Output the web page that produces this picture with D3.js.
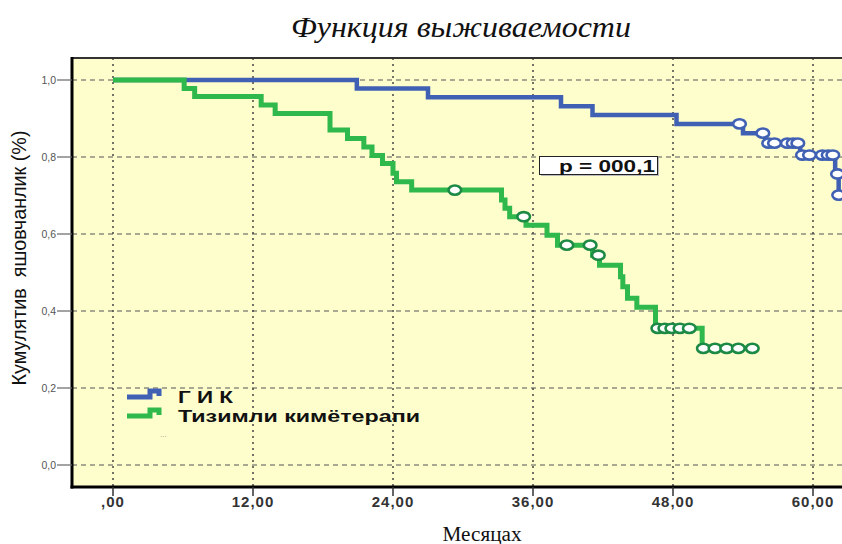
<!DOCTYPE html>
<html><head><meta charset="utf-8">
<script src="https://cdn.jsdelivr.net/npm/d3@7/dist/d3.min.js"></script>
<style>body{margin:0;background:#fff;} svg{display:block;}</style>
</head><body>
<svg id="chart" width="842" height="544"></svg>
<script>
// ---- data ----
const gikTimes = [0, 20.9, 27.0, 38.4, 41.1, 48.3, 54.0, 55.9, 58.9, 61.9, 62.2];
const gikSurv  = [1.0, 0.978, 0.955, 0.932, 0.909, 0.886, 0.862, 0.836, 0.805, 0.756, 0.701];
const gikCensorTimes = [53.7, 55.7, 56.2, 56.7, 57.8, 58.3, 58.7, 59.1, 59.7, 60.8, 61.3, 61.7, 62.1, 62.2];
const gikCensorSurv  = [0.886, 0.862, 0.836, 0.836, 0.836, 0.836, 0.836, 0.805, 0.805, 0.805, 0.805, 0.805, 0.756, 0.701];

const chemoTimes = [0, 6.1, 7.0, 12.7, 13.9, 18.6, 20.1, 21.5, 22.2, 23.1, 24.0, 24.3, 25.6,
                    33.3, 33.6, 34.0, 35.4, 37.2, 38.1, 41.1, 41.7, 43.5, 43.7, 44.1, 44.9, 46.5, 50.5];
const chemoSurv  = [1.0, 0.978, 0.957, 0.935, 0.913, 0.870, 0.848, 0.826, 0.804, 0.783, 0.758, 0.736, 0.714,
                    0.688, 0.667, 0.645, 0.623, 0.597, 0.571, 0.545, 0.519, 0.489, 0.463, 0.433, 0.410, 0.355, 0.303];
const chemoCensorTimes = [29.3, 35.2, 38.9, 40.9, 41.6, 46.7, 47.3, 47.9, 48.6, 49.4, 50.6, 51.6, 52.6, 53.6, 54.8];
const chemoCensorSurv  = [0.714, 0.645, 0.571, 0.571, 0.545, 0.355, 0.355, 0.355, 0.355, 0.355, 0.303, 0.303, 0.303, 0.303, 0.303];

const seriesNames = ["Г И К", "Тизимли кимётерапи"];
const xTicks = [0, 12, 24, 36, 48, 60];
const xTickLabels = [",00", "12,00", "24,00", "36,00", "48,00", "60,00"];
const yTicks = [0, 0.2, 0.4, 0.6, 0.8, 1.0];
const yTickLabels = ["0,0", "0,2", "0,4", "0,6", "0,8", "1,0"];
const titleText = "Функция выживаемости";
const xTitle = "Месяцах";
const yTitle = "Кумулятив\u00A0\u00A0яшовчанлик (%)";
const pText = "p = 000,1";

// ---- layout ----
const svg = d3.select("#chart");
const frame = {left: 72, top: 58, right: 870, bottom: 487};
const x = d3.scaleLinear().domain([0, 60]).range([113, 813]);
const y = d3.scaleLinear().domain([0, 1]).range([465, 80]);
const blue = "#4060b4", green = "#2fb84b", greenDark = "#1c8a45";

svg.append("defs").append("clipPath").attr("id", "clip")
  .append("rect").attr("x", frame.left).attr("y", frame.top)
  .attr("width", frame.right - frame.left).attr("height", frame.bottom - frame.top);

// background
svg.append("rect").attr("x", frame.left).attr("y", frame.top)
  .attr("width", frame.right - frame.left).attr("height", frame.bottom - frame.top)
  .attr("fill", "#fefdcc");

// grid
const grid = svg.append("g").attr("clip-path", "url(#clip)");
grid.selectAll(".hg").data(yTicks).join("line")
  .attr("x1", frame.left).attr("x2", frame.right)
  .attr("y1", d => y(d)).attr("y2", d => y(d))
  .attr("stroke", "#555").attr("stroke-width", 1.2).attr("stroke-dasharray", "5,4");
grid.selectAll(".vg").data(xTicks).join("line")
  .attr("x1", d => x(d)).attr("x2", d => x(d))
  .attr("y1", frame.top).attr("y2", frame.bottom)
  .attr("stroke", "#444").attr("stroke-width", 1.5).attr("stroke-dasharray", "2,4");

// curves
function stepPoints(times, surv, cTimes) {
  const pts = times.map((t, i) => [t, surv[i]]);
  const last = Math.max(times[times.length - 1], d3.max(cTimes));
  pts.push([last, surv[surv.length - 1]]);
  return pts;
}
const line = d3.line().x(d => x(d[0])).y(d => y(d[1])).curve(d3.curveStepAfter);
const plot = svg.append("g").attr("clip-path", "url(#clip)");

plot.append("path").datum(stepPoints(gikTimes, gikSurv, gikCensorTimes))
  .attr("d", line).attr("fill", "none").attr("stroke", blue).attr("stroke-width", 4.5)
  .attr("stroke-linejoin", "miter");
plot.append("path").datum(stepPoints(chemoTimes, chemoSurv, chemoCensorTimes))
  .attr("d", line).attr("fill", "none").attr("stroke", green).attr("stroke-width", 5)
  .attr("stroke-linejoin", "miter");

plot.selectAll(".cb").data(gikCensorTimes).join("ellipse")
  .attr("cx", d => x(d)).attr("cy", (d, i) => y(gikCensorSurv[i]))
  .attr("rx", 6.3).attr("ry", 4.6)
  .attr("fill", "#fff").attr("stroke", blue).attr("stroke-width", 2.6);
plot.selectAll(".cg").data(chemoCensorTimes).join("ellipse")
  .attr("cx", d => x(d)).attr("cy", (d, i) => y(chemoCensorSurv[i]))
  .attr("rx", 6.3).attr("ry", 4.6)
  .attr("fill", "#fff").attr("stroke", greenDark).attr("stroke-width", 2.6);

// frame
svg.append("line").attr("x1", frame.left).attr("x2", 842).attr("y1", frame.top).attr("y2", frame.top)
  .attr("stroke", "#333").attr("stroke-width", 2);
svg.append("line").attr("x1", frame.left).attr("x2", frame.left).attr("y1", frame.top - 1).attr("y2", frame.bottom + 1.5)
  .attr("stroke", "#000").attr("stroke-width", 3);
svg.append("line").attr("x1", frame.left - 1.5).attr("x2", 842).attr("y1", frame.bottom).attr("y2", frame.bottom)
  .attr("stroke", "#000").attr("stroke-width", 3);

// y axis ticks
const yAxis = svg.append("g");
yAxis.selectAll("line").data(yTicks).join("line")
  .attr("x1", 57).attr("x2", frame.left).attr("y1", d => y(d)).attr("y2", d => y(d))
  .attr("stroke", "#666").attr("stroke-width", 1.2);
yAxis.selectAll("text").data(yTicks).join("text")
  .attr("x", 56).attr("y", d => y(d) + 3.5).attr("text-anchor", "end")
  .attr("font-family", "Liberation Sans, Arial, sans-serif").attr("font-size", 10.5).attr("fill", "#555")
  .text((d, i) => yTickLabels[i]);

// x axis ticks
const xAxis = svg.append("g");
xAxis.selectAll("line").data(xTicks).join("line")
  .attr("x1", d => x(d)).attr("x2", d => x(d)).attr("y1", frame.bottom).attr("y2", frame.bottom + 9)
  .attr("stroke", "#333").attr("stroke-width", 1.5);
xAxis.selectAll("text").data(xTicks).join("text")
  .attr("x", d => x(d)).attr("y", 507).attr("text-anchor", "middle")
  .attr("font-family", "Liberation Sans, Arial, sans-serif").attr("font-size", 15).attr("font-weight", "bold")
  .attr("letter-spacing", "1px").attr("fill", "#333")
  .text((d, i) => xTickLabels[i]);

// title
svg.append("text").attr("x", 461).attr("y", 37).attr("text-anchor", "middle")
  .attr("font-family", "Liberation Serif, Times New Roman, serif").attr("font-style", "italic")
  .attr("font-size", 29).attr("fill", "#111")
  .attr("textLength", 340).attr("lengthAdjust", "spacingAndGlyphs").text(titleText);

// axis titles
svg.append("text").attr("x", 482).attr("y", 541).attr("text-anchor", "middle")
  .attr("font-family", "Liberation Serif, Times New Roman, serif").attr("font-size", 20).attr("fill", "#111")
  .attr("textLength", 79).attr("lengthAdjust", "spacingAndGlyphs")
  .text(xTitle);
svg.append("text").attr("transform", "translate(26,258) rotate(-90)").attr("text-anchor", "middle")
  .attr("font-family", "Liberation Sans, Arial, sans-serif").attr("font-size", 21).attr("fill", "#111")
  .attr("textLength", 255).attr("lengthAdjust", "spacingAndGlyphs").text(yTitle);

// legend
const legend = svg.append("g");
const legColors = [blue, green];
const legY = [396, 415];
seriesNames.forEach((name, i) => {
  const ly = legY[i];
  legend.append("path")
    .attr("d", `M127,${ly + 1} H150 V${ly - 5} H159 V${ly}`)
    .attr("fill", "none").attr("stroke", legColors[i]).attr("stroke-width", 5);
  legend.append("text").attr("x", 178).attr("y", ly + 7)
    .attr("font-family", "Liberation Sans, Arial, sans-serif").attr("font-size", 17).attr("font-weight", "bold")
    .attr("fill", "#111")
    .attr("textLength", i === 0 ? 55 : 242).attr("lengthAdjust", "spacingAndGlyphs")
    .text(name);
});
legend.append("text").attr("x", 160).attr("y", 437).attr("font-family", "Liberation Sans, Arial, sans-serif")
  .attr("font-size", 8).attr("fill", "#999").text("...");

// p-value box
const pg = svg.append("g");
pg.append("rect").attr("x", 541).attr("y", 158).attr("width", 118).attr("height", 18)
  .attr("fill", "#bbb");
pg.append("rect").attr("x", 539.5).attr("y", 156.5).attr("width", 118).attr("height", 18)
  .attr("fill", "#fff").attr("stroke", "#222").attr("stroke-width", 1);
pg.append("text").attr("x", 655).attr("y", 172).attr("text-anchor", "end")
  .attr("font-family", "Liberation Sans, Arial, sans-serif").attr("font-size", 17).attr("font-weight", "bold")
  .attr("fill", "#111").attr("textLength", 96).attr("lengthAdjust", "spacingAndGlyphs").text(pText);
</script>
</body></html>
